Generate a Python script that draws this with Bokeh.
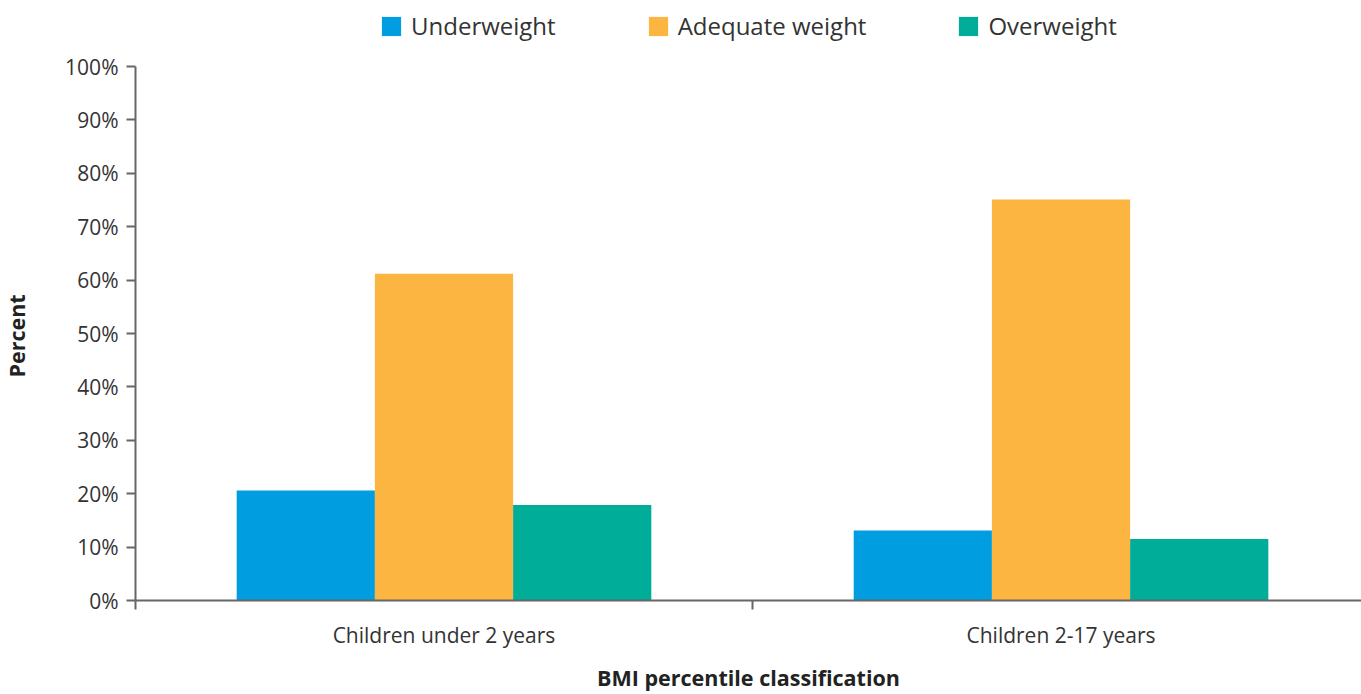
from bokeh.plotting import figure
from bokeh.models import (Range1d, FixedTicker, PrintfTickFormatter, Legend, LegendItem,
                          ColumnDataSource, Title)
from bokeh.embed import file_html
from bokeh.resources import INLINE

groups = ["Children under 2 years", "Children 2-17 years"]
series = ["Underweight", "Adequate weight", "Overweight"]
underweight = [20.6, 13.1]
adequate = [61.2, 75.1]
overweight = [17.9, 11.5]
y_ticks = [0, 10, 20, 30, 40, 50, 60, 70, 80, 90, 100]

colors = ["#009EE0", "#FBB540", "#00AD98"]
FONT = "Open Sans"
TXT = "#333333"
AX = "#666666"

# y range extends above 100% to leave room for the legend inside the frame
p = figure(width=1361, height=694, output_backend="svg", toolbar_location=None,
           x_range=Range1d(0, 1.987), y_range=Range1d(0, 112.36),
           min_border_left=133, min_border_right=0, min_border_top=0,
           min_border_bottom=94)
p.outline_line_color = None
p.grid.grid_line_color = None
p.background_fill_color = "white"
p.border_fill_color = "white"

centers = [i + 0.5 for i in range(len(groups))]
bw = 0.224
offsets = [-bw, 0.0, bw]
vals = [underweight, adequate, overweight]
renderers = []
for s, v, c, off in zip(series, vals, colors, offsets):
    src = ColumnDataSource(dict(x=[cx + off for cx in centers], top=v))
    r = p.vbar(x="x", top="top", width=bw, bottom=0, source=src,
               fill_color=c, line_color=None)
    renderers.append(r)

# y axis
ya = p.yaxis[0]
ya.bounds = (0, 100)
ya.ticker = FixedTicker(ticks=y_ticks, minor_ticks=[])
ya.formatter = PrintfTickFormatter(format="%d%%")
ya.major_label_text_font = FONT
ya.major_label_text_font_size = "21px"
ya.major_label_text_color = TXT
ya.major_label_standoff = 8
ya.axis_line_color = AX
ya.axis_line_width = 2
ya.major_tick_line_color = AX
ya.major_tick_line_width = 2
ya.major_tick_out = 9
ya.major_tick_in = 0
ya.minor_tick_line_color = None
# invisible spacer label: widens the axis panel so the title sits at the far left
ya.axis_label = "\u00a0"
ya.axis_label_text_font_size = "1px"
ya.axis_label_standoff = 25

ytitle = Title(text="Percent", align="left", offset=223, vertical_align="top",
               standoff=2, text_font=FONT, text_font_style="bold",
               text_font_size="21.5px", text_color="#222222")
p.add_layout(ytitle, "left")

# x axis
xa = p.xaxis[0]
xa.ticker = FixedTicker(ticks=centers, minor_ticks=[0, 1, 2])
xa.major_label_overrides = {c: g for c, g in zip(centers, groups)}
xa.axis_label = "BMI percentile classification"
xa.axis_label_text_font = FONT
xa.axis_label_text_font_style = "bold"
xa.axis_label_text_font_size = "21.5px"
xa.axis_label_text_color = "#222222"
xa.axis_label_standoff = 11
xa.major_label_text_font = FONT
xa.major_label_text_font_size = "21px"
xa.major_label_text_color = TXT
xa.major_label_standoff = 11
xa.axis_line_color = AX
xa.axis_line_width = 2
xa.major_tick_line_color = None
xa.major_tick_out = 9
xa.minor_tick_line_color = AX
xa.minor_tick_line_width = 2
xa.minor_tick_out = 9
xa.minor_tick_in = 0

legend = Legend(items=[LegendItem(label=s, renderers=[r]) for s, r in zip(series, renderers)],
                orientation="horizontal", location=(244, 558),
                glyph_width=24, glyph_height=24, label_standoff=8, spacing=90,
                label_text_font=FONT, label_text_font_size="24px", label_text_color=TXT,
                border_line_color=None, background_fill_alpha=0,
                padding=0, margin=0)
p.add_layout(legend, "center")

open("out.html", "w").write(file_html(p, INLINE))
